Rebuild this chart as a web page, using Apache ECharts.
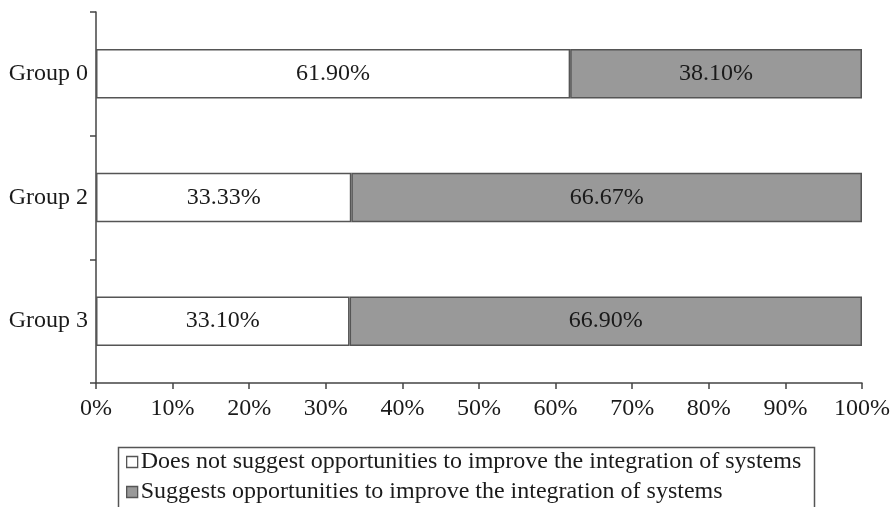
<!DOCTYPE html>
<html>
<head>
<meta charset="utf-8">
<script src="https://cdn.jsdelivr.net/npm/echarts@6/dist/echarts.min.js"></script>
<style>
  html, body { margin: 0; padding: 0; background: #fff; }
  #chart { width: 893px; height: 507px; }
</style>
</head>
<body>
<div id="chart"></div>
<script>
// Categories, top to bottom
const groups = ['Group 0', 'Group 2', 'Group 3'];
// Share of responses per group (percent)
const notSuggest = [61.90, 33.33, 33.10];
const suggests = [38.10, 66.67, 66.90];
// Series names shown in the legend
const seriesNames = [
  'Does not suggest opportunities to improve the integration of systems',
  'Suggests opportunities to improve the integration of systems'
];
// X axis range and step, percent
const xMin = 0, xMax = 100, xStep = 10;

const FONT = '"Liberation Serif", "DejaVu Serif", serif';
const FS = 24;
const TEXT = '#1a1a1a';
const AXIS = '#444';
const EDGE = '#555';
const FILLS = ['#fff', '#999'];

const chart = echarts.init(document.getElementById('chart'), null, { renderer: 'canvas' });

const barLabel = {
  show: true,
  position: 'inside',
  color: TEXT,
  fontFamily: FONT,
  fontSize: FS,
  formatter: p => p.value.toFixed(2) + '%'
};

// One legend row per series, stacked inside a shared frame
const legendRow = (i, top) => ({
  orient: 'horizontal',
  left: 126,
  top: top,
  padding: 0,
  itemWidth: 11,
  itemHeight: 11,
  icon: 'rect',
  textStyle: { fontFamily: FONT, fontSize: FS, color: TEXT, padding: [0, 0, 0, -2] },
  data: [{ name: seriesNames[i], itemStyle: { color: FILLS[i], borderColor: EDGE, borderWidth: 1.3 } }]
});

chart.setOption({
  backgroundColor: '#fff',
  animation: false,
  grid: { left: 96, right: 31, top: 12, bottom: 124, containLabel: false },
  legend: [legendRow(0, 450), legendRow(1, 480)],
  graphic: [{
    type: 'rect',
    left: 116,
    top: 445,
    shape: { width: 696, height: 90 },
    style: { fill: 'none', stroke: EDGE, lineWidth: 1.5 },
    silent: true,
    z: -1
  }],
  xAxis: {
    type: 'value',
    min: xMin,
    max: xMax,
    interval: xStep,
    axisLine: { show: true, lineStyle: { color: AXIS, width: 1.5 } },
    axisTick: { show: true, length: 6, lineStyle: { color: AXIS, width: 1.5 } },
    splitLine: { show: false },
    axisLabel: {
      formatter: '{value}%',
      fontFamily: FONT,
      fontSize: FS,
      color: TEXT,
      margin: 14
    }
  },
  yAxis: {
    type: 'category',
    data: groups,
    inverse: true,
    axisLine: { show: true, lineStyle: { color: AXIS, width: 1.5 } },
    axisTick: { show: true, length: 6, lineStyle: { color: AXIS, width: 1.5 } },
    axisLabel: { fontFamily: FONT, fontSize: FS, color: TEXT, margin: 8 }
  },
  series: [
    {
      name: seriesNames[0],
      type: 'bar',
      stack: 'total',
      barWidth: '40%',
      data: notSuggest,
      itemStyle: { color: FILLS[0], borderColor: EDGE, borderWidth: 1.5 },
      label: barLabel
    },
    {
      name: seriesNames[1],
      type: 'bar',
      stack: 'total',
      barWidth: '40%',
      data: suggests,
      itemStyle: { color: FILLS[1], borderColor: EDGE, borderWidth: 1.5 },
      label: barLabel
    }
  ]
});
</script>
</body>
</html>
